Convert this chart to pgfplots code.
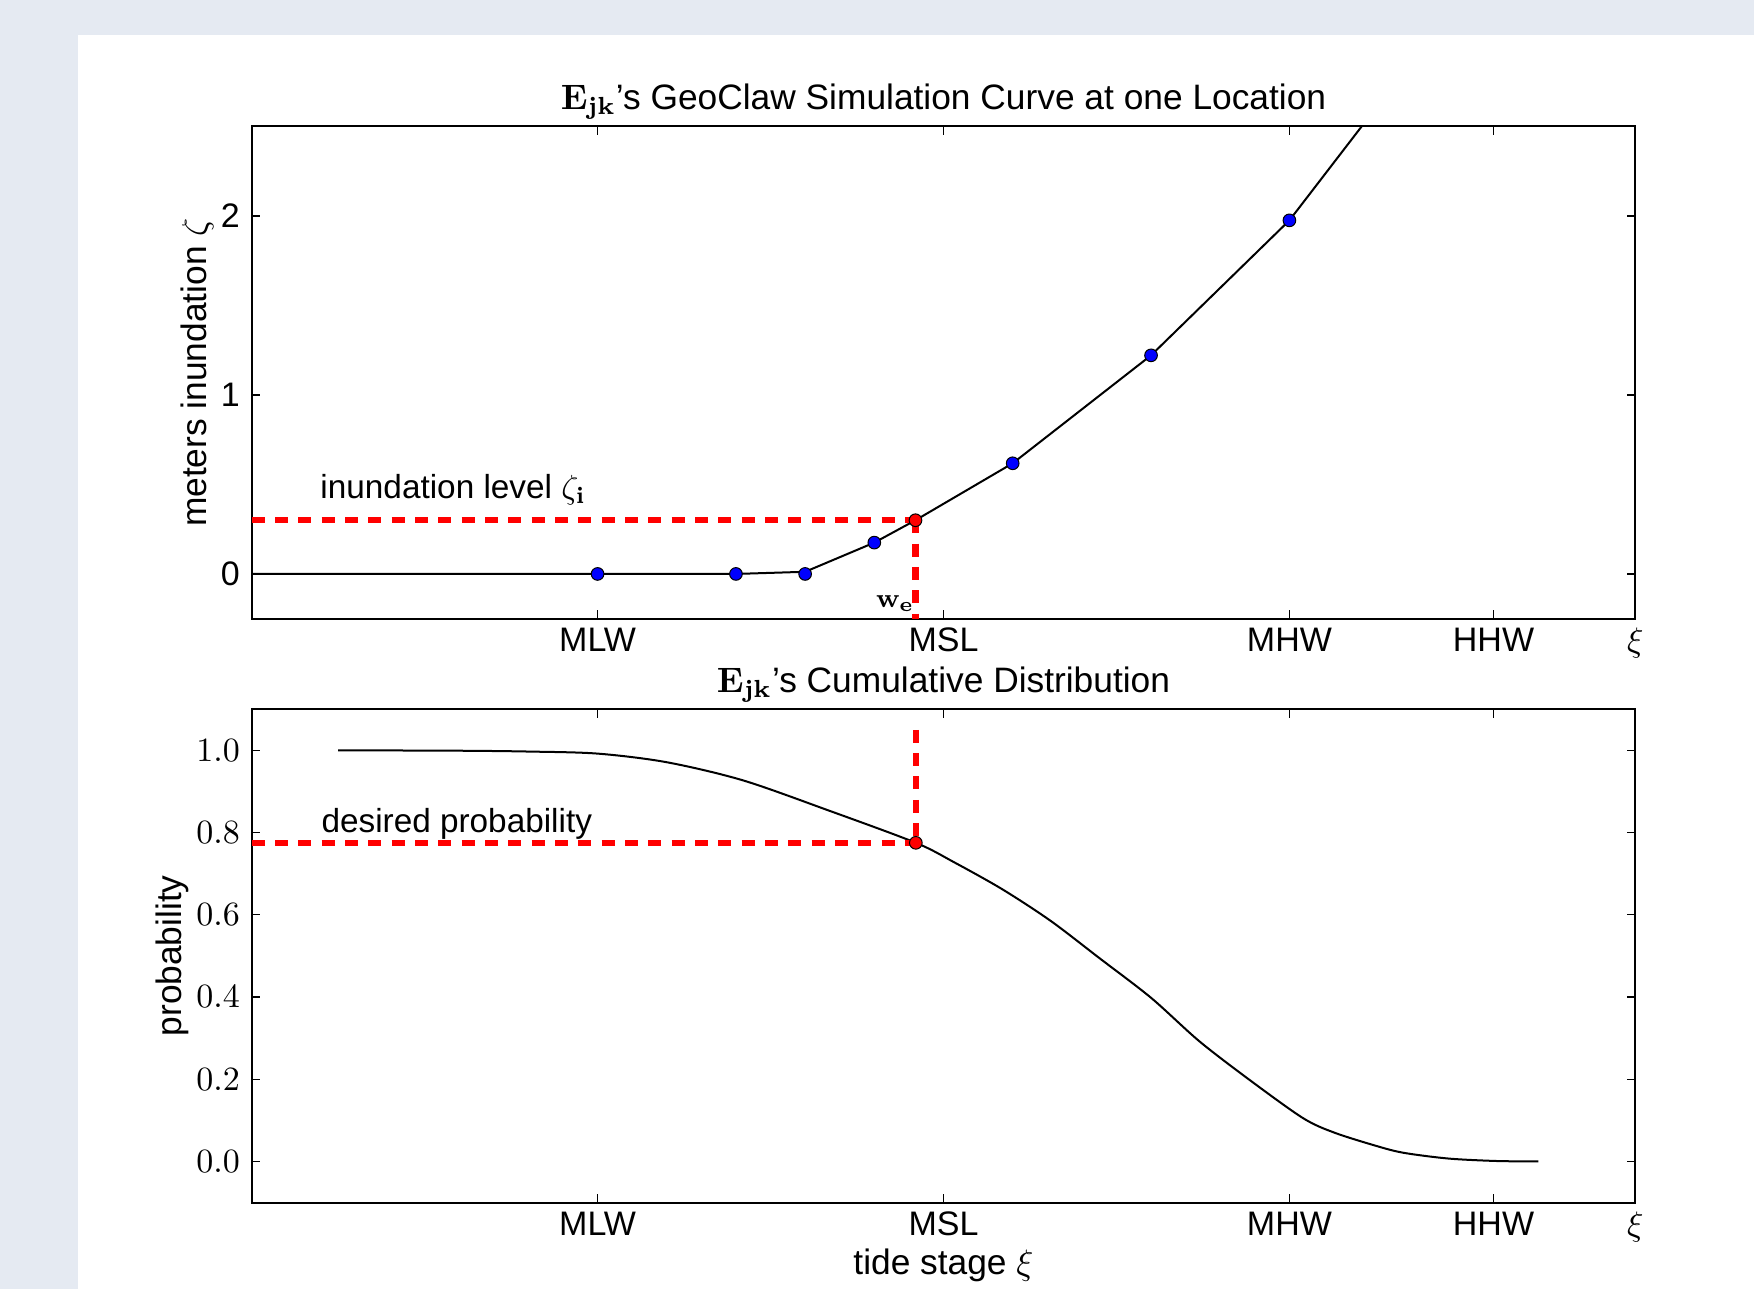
\RequirePackage{fix-cm}
\documentclass[border=0pt]{standalone}
\usepackage[no-math]{fontspec}
\setmainfont{Liberation Sans}
\usepackage{pgfplots}
\pgfplotsset{compat=1.18}
\definecolor{bandbg}{RGB}{229,234,242}
\newcommand{\fa}{\fontsize{10pt}{12pt}\selectfont}
\newcommand{\fl}{\fontsize{10.6pt}{12.7pt}\selectfont}
\newcommand{\ft}{\fontsize{10.2pt}{12.2pt}\selectfont}
\pgfplotsset{
  every axis title/.style={at={(0.5,1)}, anchor=base, yshift=5pt, font=\fl},
  common/.style={
    scale only axis, width=415.1pt,
    xmin=-2, xmax=2,
    xtick={-1,0,1,1.59,2},
    xticklabels={MLW,MSL,MHW,HHW,$\xi$},
    tick align=inside,
    major tick length=2.5pt,
    axis line style={line width=0.6pt},
    tick style={line width=0.4pt, black},
    ticklabel style={font=\ft},
    xticklabel style={anchor=base, yshift=-9.9pt},
    label style={font=\fl},
    clip=true,
  },
  reddash/.style={red, line width=1.9pt, dash pattern=on 3.9pt off 3.1pt},
}
\begin{document}
\begin{tikzpicture}
\fill[bandbg] (0,0) rectangle (526.2pt,-386.7pt);
\fill[white] (23.4pt,-10.5pt) rectangle (526.2pt,-386.7pt);

\begin{axis}[common,
  at={(75.5pt,-185.6pt)}, anchor=south west, height=147.7pt,
  ymin=-0.25, ymax=2.5, ytick={0,1,2},
  /pgf/number format/assume math mode=true,
  ylabel={meters inundation $\zeta$},
  ylabel style={at={(axis description cs:-0.0325,0.5)}, anchor=base},
  title={$\mathbf{E_{jk}}$'s GeoClaw Simulation Curve at one Location},
]
\addplot[black, line width=0.6pt] coordinates {
  (-2.0,0) (-1.0,0) (-0.6,0) (-0.4,0.012) (-0.2,0.175) (-0.081,0.30)
  (0.2,0.618) (0.6,1.221) (1.0,1.975) (1.4,2.98)
};
\addplot[only marks, mark=*, mark size=1.9pt, mark options={fill=blue, draw=black, line width=0.3pt}] coordinates {
  (-1.0,0) (-0.6,0) (-0.4,0.0) (-0.2,0.175) (0.2,0.618) (0.6,1.221) (1.0,1.975)
};
\addplot[reddash] coordinates {(-2,0.30) (-0.081,0.30)};
\addplot[reddash] coordinates {(-0.081,0.30) (-0.081,-0.25)};
\addplot[only marks, mark=*, mark size=1.9pt, mark options={fill=red, draw=black, line width=0.3pt}] coordinates {(-0.081,0.30)};
\node[anchor=base west, inner sep=0pt, font=\fa] at (axis cs:-1.803,0.42) {inundation level $\zeta_{\mathbf{i}}$};
\node[anchor=base west, inner sep=0pt, font=\fontsize{8pt}{9.6pt}\selectfont] at (axis cs:-0.197,-0.19) {$\mathbf{w_e}$};
\end{axis}

\begin{axis}[common,
  at={(75.5pt,-360.75pt)}, anchor=south west, height=148pt,
  ymin=-0.1, ymax=1.1, ytick={0,0.2,0.4,0.6,0.8,1},
  yticklabel style={/pgf/number format/.cd, fixed, fixed zerofill, precision=1},
  ylabel={probability},
  ylabel style={at={(axis description cs:-0.051,0.5)}, anchor=base},
  xlabel={tide stage $\xi$},
  xlabel style={at={(axis description cs:0.5,0)}, anchor=base, yshift=-21.7pt},
  title={$\mathbf{E_{jk}}$'s Cumulative Distribution},
]
\addplot[black, line width=0.6pt, smooth] table {
x y
-1.75 1.000
-1.40 0.999
-1.20 0.997
-1.00 0.992
-0.80 0.971
-0.58 0.927
-0.33 0.853
-0.08 0.775
0.03 0.728
0.17 0.662
0.31 0.585
0.45 0.495
0.60 0.398
0.74 0.292
0.89 0.195
1.04 0.105
1.13 0.070
1.25 0.038
1.33 0.021
1.46 0.007
1.60 0.001
1.72 0.000
};
\addplot[reddash] coordinates {(-2,0.775) (-0.08,0.775)};
\addplot[reddash] coordinates {(-0.08,1.05) (-0.08,0.775)};
\addplot[only marks, mark=*, mark size=1.9pt, mark options={fill=red, draw=black, line width=0.3pt}] coordinates {(-0.08,0.775)};
\node[anchor=base west, inner sep=0pt, font=\fa] at (axis cs:-1.80,0.80) {desired probability};
\end{axis}
\pgfresetboundingbox
\useasboundingbox (0,0) rectangle (526.2pt,-386.7pt);
\end{tikzpicture}
\end{document}
